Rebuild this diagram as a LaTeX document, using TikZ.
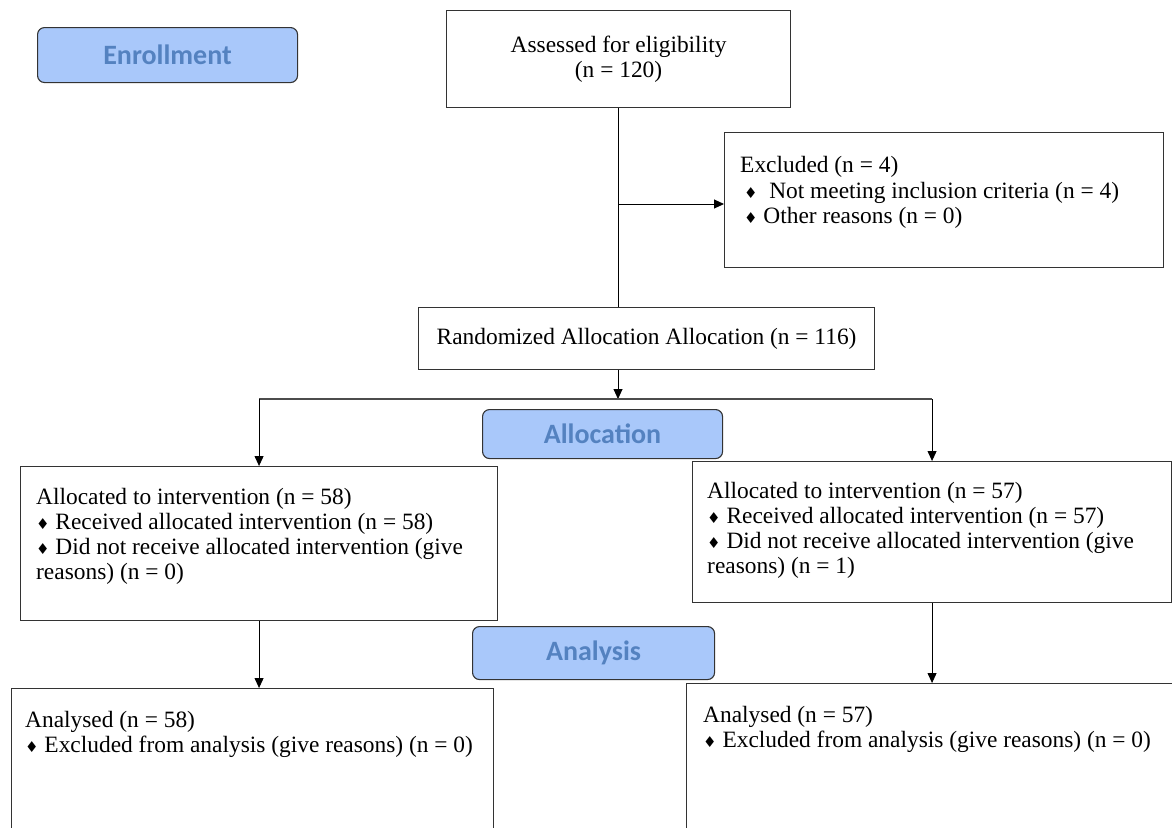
\documentclass[tikz,border=0pt]{standalone}
\usepackage{fontspec}
\setmainfont{Liberation Serif}
\newfontfamily\stagefont{Carlito}
\newfontfamily\symbfont{DejaVu Sans}
\usepackage{tikz}
\usetikzlibrary{positioning, arrows.meta}

\definecolor{stagefill}{RGB}{169,200,250}
\definecolor{stagetext}{RGB}{84,130,192}
\newcommand{\dia}{{\symbfont\fontsize{15}{15}\selectfont ♦}}

\begin{document}
\begin{tikzpicture}[x=1pt, y=-1pt, >={Triangle[length=10pt, width=9pt]},
  box/.style = {draw=black!80, line width=1.1pt, anchor=north west, inner sep=0pt, font=\fontsize{23.4}{25}\selectfont},
  stage/.style = {box, fill=stagefill, rounded corners=7pt, text=stagetext, font=\stagefont\bfseries\fontsize{28}{30}\selectfont},
  txt/.style = {align=left, inner sep=0pt, font=\fontsize{23.4}{25}\selectfont},
  line/.style = {line width=0.9pt},
  forkline/.style = {line width=1.6pt, draw=black!70}]
\useasboundingbox (0,0) rectangle (1172,827);
\clip (0,0) rectangle (1172,827);

% stage labels
\node[stage, minimum width=260pt, minimum height=55pt] (enrol) at (37,27) {Enrollment};
\node[stage, minimum width=240pt, minimum height=49pt] (alloclbl) at (482,409) {Allocation};
\node[stage, minimum width=242pt, minimum height=53pt] (analbl) at (472,626) {Analysis};

% enrollment
\node[box, minimum width=344pt, minimum height=97pt, align=center] (assess) at (446,10) {Assessed for eligibility\\(n = 120)};
\node[box, minimum width=439pt, minimum height=135pt] (excl) at (724,132) {};
\node[txt, below right=24pt and 16pt of excl.north west] (excltxt)
  {Excluded (n = 4)\\[1.5pt]
   \,\dia\ \ Not meeting inclusion criteria (n = 4)\\
   \,\dia\ Other reasons (n = 0)};
\node[box, minimum width=456pt, minimum height=62pt] (rand) at (418,307) {Randomized Allocation Allocation (n = 116)};

% allocation
\node[box, minimum width=477pt, minimum height=154pt] (alloc1) at (20,466) {};
\node[txt, below right=22pt and 16pt of alloc1.north west] (alloc1txt)
  {Allocated to intervention (n = 58)\\
   \dia\ Received allocated intervention (n = 58)\\
   \dia\ Did not receive allocated intervention (give\\
   reasons) (n = 0)};
\node[box, minimum width=479pt, minimum height=141pt] (alloc2) at (692,461) {};
\node[txt, below right=21pt and 15pt of alloc2.north west] (alloc2txt)
  {Allocated to intervention (n = 57)\\
   \dia\ Received allocated intervention (n = 57)\\
   \dia\ Did not receive allocated intervention (give\\
   reasons) (n = 1)};

% analysis
\node[box, minimum width=482pt, minimum height=200pt] (ana1) at (11,688) {};
\node[txt, below right=23pt and 14pt of ana1.north west] (ana1txt)
  {Analysed (n = 58)\\
   \dia\ Excluded from analysis (give reasons) (n = 0)};
\node[box, minimum width=520pt, minimum height=200pt] (ana2) at (686,683) {};
\node[txt, below right=23pt and 17pt of ana2.north west] (ana2txt)
  {Analysed (n = 57)\\
   \dia\ Excluded from analysis (give reasons) (n = 0)};

% connectors
\coordinate (split) at (618,204);
\coordinate (fork) at (618,399);
\draw[line] (assess.south) -- (assess.south |- rand.north);
\draw[line, ->] (split) -- (split -| excl.west);
\draw[line, ->] (rand.south -| fork) -- (fork);
\draw[forkline] (alloc1.north |- fork) -- (alloc2.north |- fork);
\draw[line, ->] (alloc1.north |- fork) -- (alloc1.north);
\draw[line, ->] (alloc2.north |- fork) -- (alloc2.north);
\draw[line, ->] (alloc1.south) -- (alloc1.south |- ana1.north);
\draw[line, ->] (alloc2.south) -- (alloc2.south |- ana2.north);
\end{tikzpicture}
\end{document}
